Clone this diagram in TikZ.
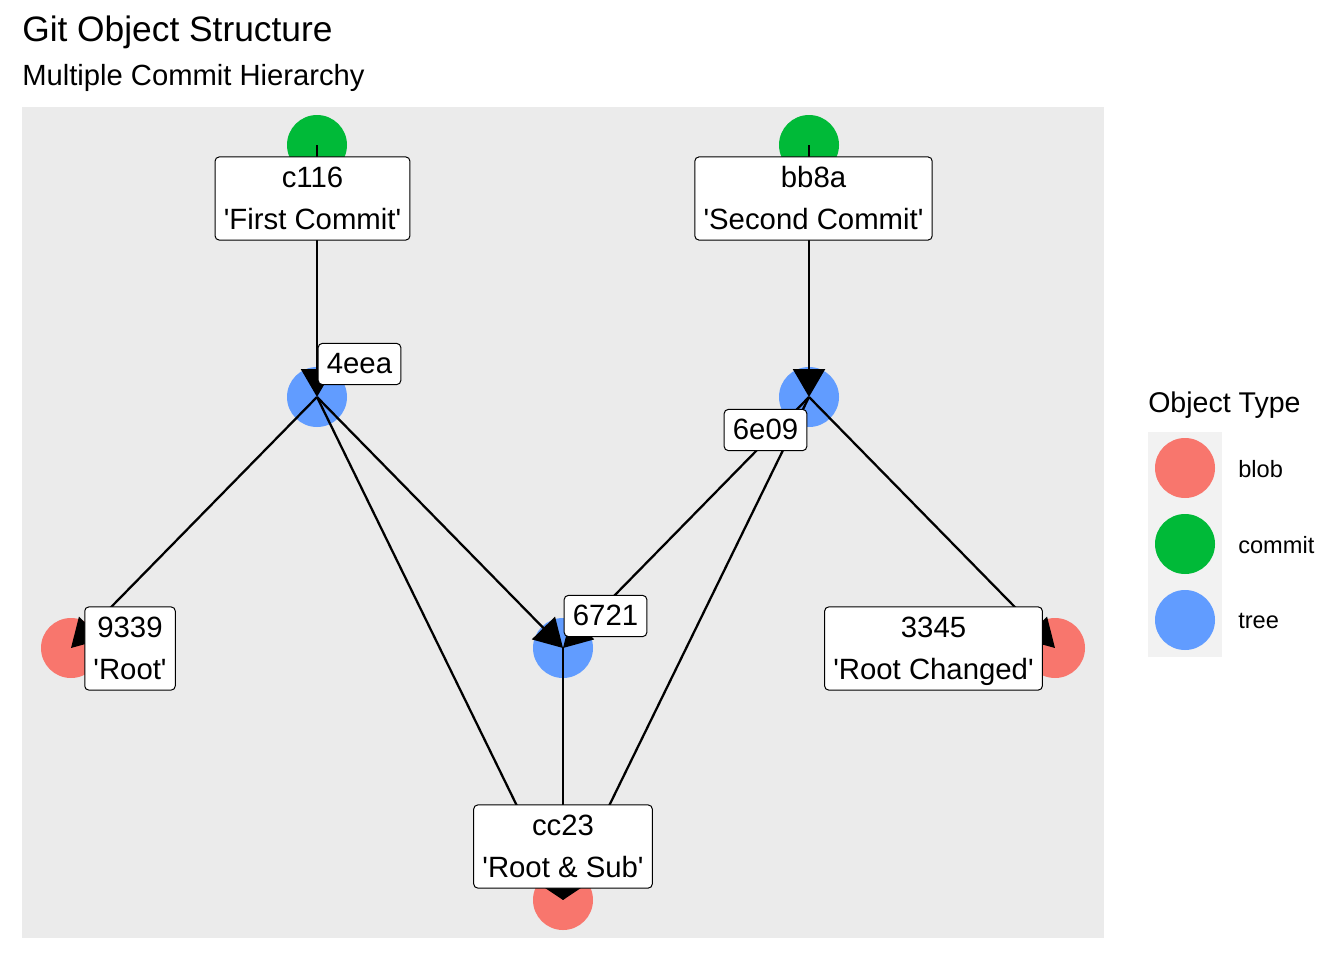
\documentclass[tikz,border=0pt]{standalone}
\usepackage{fontspec}
\setmainfont{Liberation Sans}
\usetikzlibrary{arrows.meta}
\definecolor{panelbg}{HTML}{EBEBEB}
\definecolor{keybg}{HTML}{F2F2F2}
\definecolor{cblob}{HTML}{F8766D}
\definecolor{ccommit}{HTML}{00BA38}
\definecolor{ctree}{HTML}{619CFF}
\newcommand{\sq}{\textquotesingle}
\newcommand{\lst}{\rule[-4.7pt]{0pt}{23.7pt}}
\begin{document}
\begin{tikzpicture}[x=0.75pt,y=-0.75pt,
  pt/.style={circle,inner sep=0pt,minimum size=45pt},
  blob/.style={pt,fill=cblob},
  commit/.style={pt,fill=ccommit},
  tree/.style={pt,fill=ctree},
  edge/.style={line width=1.7pt,-{Triangle[length=21pt,width=24pt]}},
  lbl/.style={draw,fill=white,rounded corners=3pt,line width=0.75pt,
    inner xsep=6.5pt,inner ysep=3.55pt,align=center,
    font=\fontsize{22pt}{31.5pt}\selectfont},
  ttl/.style={anchor=base west,inner sep=0pt},
]
\useasboundingbox (0,0) rectangle (1344,960);
\fill[white] (0,0) rectangle (1344,960);
% panel
\fill[panelbg] (22,107) rectangle (1104,938);
% titles
\node[ttl,font=\fontsize{26.5pt}{30pt}\selectfont] (title) at (22,41) {Git Object Structure};
\node[ttl,font=\fontsize{21.9pt}{26pt}\selectfont] (subtitle) at (22,85) {Multiple Commit Hierarchy};
% nodes
\node[commit] (c116) at (317,145) {};
\node[commit] (bb8a) at (809,145) {};
\node[tree] (t4eea) at (317,397) {};
\node[tree] (t6e09) at (809,397) {};
\node[tree] (t6721) at (563,648) {};
\node[blob] (b9339) at (71,648) {};
\node[blob] (b3345) at (1055,648) {};
\node[blob] (bcc23) at (563,900) {};
% edges
\draw[edge] (c116.center) -- (t4eea.center);
\draw[edge] (bb8a.center) -- (t6e09.center);
\draw[edge] (t4eea.center) -- (b9339.center);
\draw[edge] (t4eea.center) -- (t6721.center);
\draw[edge] (t4eea.center) -- (bcc23.center);
\draw[edge] (t6e09.center) -- (t6721.center);
\draw[edge] (t6e09.center) -- (bcc23.center);
\draw[edge] (t6e09.center) -- (b3345.center);
\draw[edge] (t6721.center) -- (bcc23.center);
% labels
\node[lbl] (lc116) at (312.5,198.5) {\lst c116\\\lst\sq First Commit\sq};
\node[lbl] (lbb8a) at (813.5,198.5) {\lst bb8a\\\lst\sq Second Commit\sq};
\node[lbl] (l4eea) at (359.5,364) {\lst 4eea};
\node[lbl] (l6e09) at (765.5,430) {\lst 6e09};
\node[lbl] (l6721) at (605.5,616) {\lst 6721};
\node[lbl] (l9339) at (130,648.5) {\lst 9339\\\lst\sq Root\sq};
\node[lbl] (l3345) at (933.5,648.5) {\lst 3345\\\lst\sq Root Changed\sq};
\node[lbl] (lcc23) at (563,846.5) {\lst cc23\\\lst\sq Root \& Sub\sq};
% legend
\node[ttl,font=\fontsize{21.4pt}{26pt}\selectfont] (legtitle) at (1148,412) {Object Type};
\fill[keybg] (1148,432) rectangle (1222,657);
\node[blob] (kblob) at (1185,468) {};
\node[commit] (kcommit) at (1185,544) {};
\node[tree] (ktree) at (1185,620) {};
\node[ttl,font=\fontsize{17.7pt}{21pt}\selectfont] (lblob) at (1238,477) {blob};
\node[ttl,font=\fontsize{17.7pt}{21pt}\selectfont] (lcommit) at (1238,553) {commit};
\node[ttl,font=\fontsize{17.7pt}{21pt}\selectfont] (ltree) at (1238,628) {tree};
\end{tikzpicture}
\end{document}
